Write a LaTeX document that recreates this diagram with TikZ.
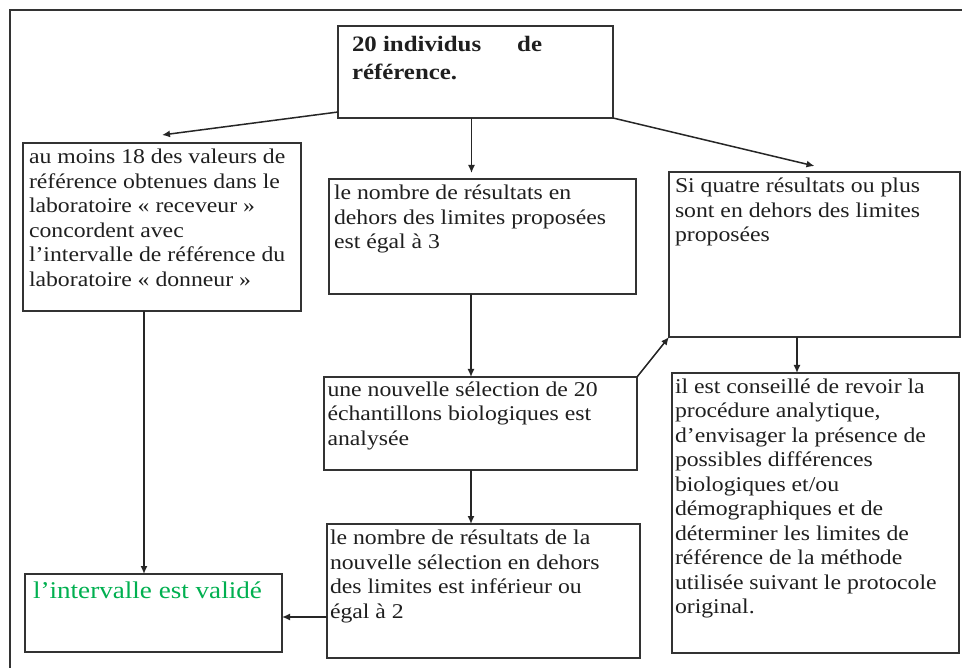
\documentclass[tikz,border=0pt]{standalone}
\usepackage{fontspec}
\setmainfont{Liberation Serif}[FakeStretch=1.13]
\usetikzlibrary{arrows.meta,calc}
\definecolor{ink}{HTML}{333333}
\definecolor{okgreen}{HTML}{00B050}
% one full-width line of text inside a flow box
\newcommand{\tline}[1]{\hbox to\hsize{\strut#1\hss}}
\begin{document}
\begin{tikzpicture}[x=1pt,y=-1pt,
  box/.style={draw=ink, line width=1.5pt, anchor=north west, outer sep=0pt,
    inner ysep=3.5pt, inner xsep=5pt, text=black!88,
    font=\fontsize{21}{24.5}\selectfont},
  arr/.style={draw=black!85, line width=1.5pt, -{Latex[length=8pt,width=7pt]}},
  frame/.style={draw=ink, line width=1.6pt},
]
\useasboundingbox (0,0) rectangle (962,668);
\fill[white] (0,0) rectangle (962,668);
\clip (0,0) rectangle (962,668);
\draw[frame] (10,10) rectangle (990,700);

% boxes
\node[box, inner xsep=14pt, inner ysep=6pt, font=\fontsize{22}{28}\selectfont\bfseries] (top) at (338,26)
  {\parbox[t][80pt][t]{247pt}{\tline{20 individus\hspace{36pt}de}\tline{référence.}}};

\node[box, inner xsep=6pt] (lab) at (23,143)
  {\parbox[t][161pt][t]{266pt}{%
    \tline{au moins 18 des valeurs de}%
    \tline{référence obtenues dans le}%
    \tline{laboratoire « receveur »}%
    \tline{concordent avec}%
    \tline{l’intervalle de référence du}%
    \tline{laboratoire « donneur »}}};

\node[box, inner xsep=5pt] (mid) at (329,179)
  {\parbox[t][108pt][t]{297pt}{%
    \tline{le nombre de résultats en}%
    \tline{dehors des limites proposées}%
    \tline{est égal à 3}}};

\node[box, inner xsep=6pt] (quat) at (669,172)
  {\parbox[t][158pt][t]{279pt}{%
    \tline{Si quatre résultats ou plus}%
    \tline{sont en dehors des limites}%
    \tline{proposées}}};

\node[box, inner xsep=3.5pt, inner ysep=2pt] (nouv) at (324,377)
  {\parbox[t][89pt][t]{306pt}{%
    \tline{une nouvelle sélection de 20}%
    \tline{échantillons biologiques est}%
    \tline{analysée}}};

\node[box, inner xsep=3pt] (nombre) at (327,524)
  {\parbox[t][127pt][t]{307pt}{%
    \tline{le nombre de résultats de la}%
    \tline{nouvelle sélection en dehors}%
    \tline{des limites est inférieur ou}%
    \tline{égal à 2}}};

\node[box, inner xsep=3pt, inner ysep=3pt] (conseil) at (672,373)
  {\parbox[t][274pt][t]{281pt}{%
    \tline{il est conseillé de revoir la}%
    \tline{procédure analytique,}%
    \tline{d’envisager la présence de}%
    \tline{possibles différences}%
    \tline{biologiques et/ou}%
    \tline{démographiques et de}%
    \tline{déterminer les limites de}%
    \tline{référence de la méthode}%
    \tline{utilisée suivant le protocole}%
    \tline{original.}}};

\node[box, inner xsep=8pt, inner ysep=4.5pt, text=okgreen, font=\fontsize{24}{28}\selectfont] (valide) at (25,574)
  {\parbox[t][69pt][t]{241pt}{\tline{l’intervalle est validé}}};

% connectors
\draw[arr] ([yshift=6pt]top.south west) -- ([yshift=8pt]lab.north);
\draw[arr] ($(top.south)+(-4,0)$) -- ($(top.south |- mid.north)+(-4,-6)$);
\draw[arr] (top.south east) -- ([yshift=6pt]quat.north);
\draw[arr] ($(lab.south)+(-18,0)$) -- ($(lab.south |- valide.north)+(-18,0)$);
\draw[arr] ($(mid.south)+(-11.5,0)$) -- ($(mid.south |- nouv.north)+(-11.5,0)$);
\draw[arr] ($(nouv.south)+(-9.5,0)$) -- ($(nouv.south |- nombre.north)+(-9.5,0)$);
\draw[arr] (nouv.north east) -- (quat.south west);
\draw[arr] ($(quat.south)+(-17.5,0)$) -- ($(quat.south |- conseil.north)+(-17.5,0)$);
\coordinate (vin) at ($(valide.east)+(0,4)$);
\draw[arr] (nombre.west |- vin) -- (vin);
\end{tikzpicture}
\end{document}
